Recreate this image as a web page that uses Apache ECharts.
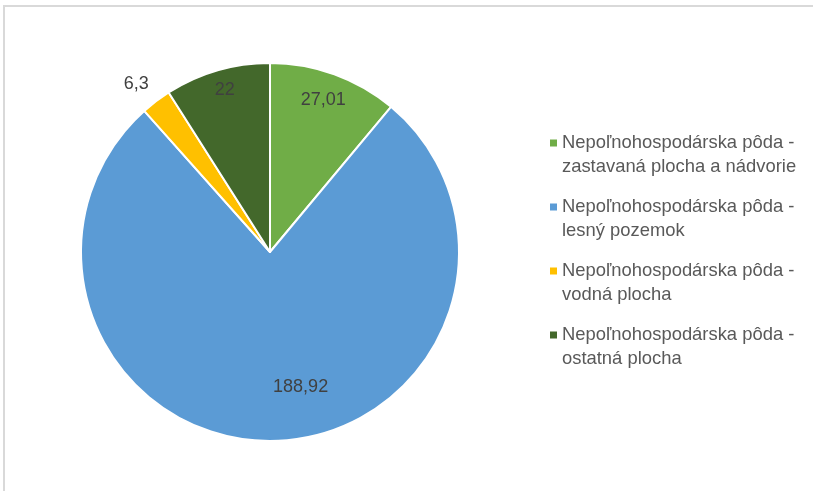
<!DOCTYPE html>
<html>
<head>
<meta charset="utf-8">
<script src="https://cdn.jsdelivr.net/npm/echarts@6/dist/echarts.min.js"></script>
<style>
  html, body { margin: 0; padding: 0; background: #fff; }
  #frame {
    position: absolute; left: 3px; top: 5px; width: 830px; height: 500px;
    border-top: 2px solid #d9d9d9; border-left: 2px solid #d9d9d9;
  }
  #chart { position: absolute; left: 0; top: 0; width: 813px; height: 491px; }
</style>
</head>
<body>
<div id="frame"></div>
<div id="chart"></div>
<script>
// kategórie a hodnoty
const categories = [
  "Nepoľnohospodárska pôda -\nzastavaná plocha a nádvorie",
  "Nepoľnohospodárska pôda -\nlesný pozemok",
  "Nepoľnohospodárska pôda -\nvodná plocha",
  "Nepoľnohospodárska pôda -\nostatná plocha"
];
const values = [27.01, 188.92, 6.3, 22];
const colors = ["#70AD47", "#5B9BD5", "#FFC000", "#43682B"];
// posun popiskov oproti predvolenej pozícii
const labelShift = [[20, -60], [29, 38], [-75, -90], [-18, -68]];

const font = "Liberation Sans, Arial, sans-serif";

const option = {
  animation: false,
  legend: {
    orient: "vertical",
    left: 547,
    top: 131,
    padding: 0,
    itemWidth: 10,
    itemHeight: 31,
    itemGap: 16,
    icon: "path://M3,0L10,0L10,7L3,7ZM0,31",
    itemStyle: { borderWidth: 0 },
    textStyle: { fontFamily: font, fontSize: 18.4, color: "#595959", lineHeight: 24 },
    data: categories
  },
  series: [
    {
      type: "pie",
      center: [270, 252],
      radius: 189,
      startAngle: 90,
      avoidLabelOverlap: false,
      itemStyle: { borderColor: "#fff", borderWidth: 2 },
      label: {
        show: true,
        position: "inside",
        fontFamily: font,
        fontSize: 18,
        color: "#404040",
        formatter: p => String(p.value).replace(".", ",")
      },
      labelLine: { show: false },
      emphasis: { disabled: true },
      labelLayout: p => ({ dx: labelShift[p.dataIndex][0], dy: labelShift[p.dataIndex][1] }),
      data: values.map((v, i) => ({ name: categories[i], value: v, itemStyle: { color: colors[i] } }))
    }
  ]
};

const myChart = echarts.init(document.getElementById("chart"));
myChart.setOption(option);
</script>
</body>
</html>
